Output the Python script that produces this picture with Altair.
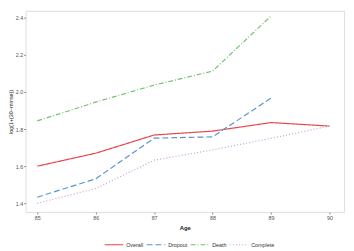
import altair as alt
import pandas as pd

ages = [85, 86, 87, 88, 89, 90]
overall = [1.600, 1.670, 1.768, 1.789, 1.835, 1.816]
dropout = [1.433, 1.532, 1.751, 1.758, 1.967]
death = [1.844, 1.945, 2.037, 2.112, 2.409]
complete = [1.400, 1.480, 1.632, 1.688, 1.750, 1.816]

series_names = ["Overall", "Dropout", "Death", "Complete"]
series_vals = [overall, dropout, death, complete]
colors = ["#E8434A", "#5A93CC", "#72C16E", "#C79AD4"]
dashes = [[1, 0], [6, 3], [5, 2, 1, 2], [1, 2.2]]

rows = []
for name, vals in zip(series_names, series_vals):
    for a, v in zip(ages, vals):
        rows.append({"Age": a, "value": v, "Group": name})
df = pd.DataFrame(rows)

leg = alt.Legend(title=None, orient="none", legendX=80, legendY=229,
                 direction="horizontal",
                 symbolType="stroke", symbolSize=361, symbolStrokeWidth=1.2,
                 labelFontSize=5.5, labelColor="#333", columnPadding=0,
                 labelOffset=2, padding=0)

chart = alt.Chart(df).mark_line(strokeWidth=1.2).encode(
    x=alt.X("Age:Q",
            scale=alt.Scale(domain=[84.8, 90.25], nice=False, zero=False),
            axis=alt.Axis(values=ages, format="d", title="Age", grid=False,
                          domain=False, tickSize=2, tickColor="#888",
                          labelFontSize=5.5, labelColor="#555", labelPadding=2,
                          titleFontSize=6, titleFontWeight="bold", titlePadding=3,
                          titleColor="#222")),
    y=alt.Y("value:Q",
            scale=alt.Scale(domain=[1.353, 2.437], nice=False, zero=False),
            axis=alt.Axis(values=[1.4, 1.6, 1.8, 2.0, 2.2, 2.4], format=".1f",
                          title="log(1+(30\u2212mmse))", grid=False, domain=False,
                          tickSize=2, tickColor="#888",
                          labelFontSize=5.5, labelColor="#555", labelPadding=1,
                          titleFontSize=5.5, titleFontWeight="normal",
                          titlePadding=2, titleColor="#222")),
    color=alt.Color("Group:N",
                    scale=alt.Scale(domain=series_names, range=colors),
                    legend=leg),
    strokeDash=alt.StrokeDash("Group:N",
                              scale=alt.Scale(domain=series_names, range=dashes),
                              legend=leg),
    order=alt.Order("Age:Q"),
).properties(
    width=326, height=206,
    autosize=alt.AutoSizeParams(type="none"),
    padding={"left": 18, "top": 0, "right": 2, "bottom": 37},
).configure_view(
    stroke="#808080", strokeWidth=1.3
).configure(font="Liberation Sans")

chart.save("out.html", embed_options={"renderer": "svg", "actions": False})
